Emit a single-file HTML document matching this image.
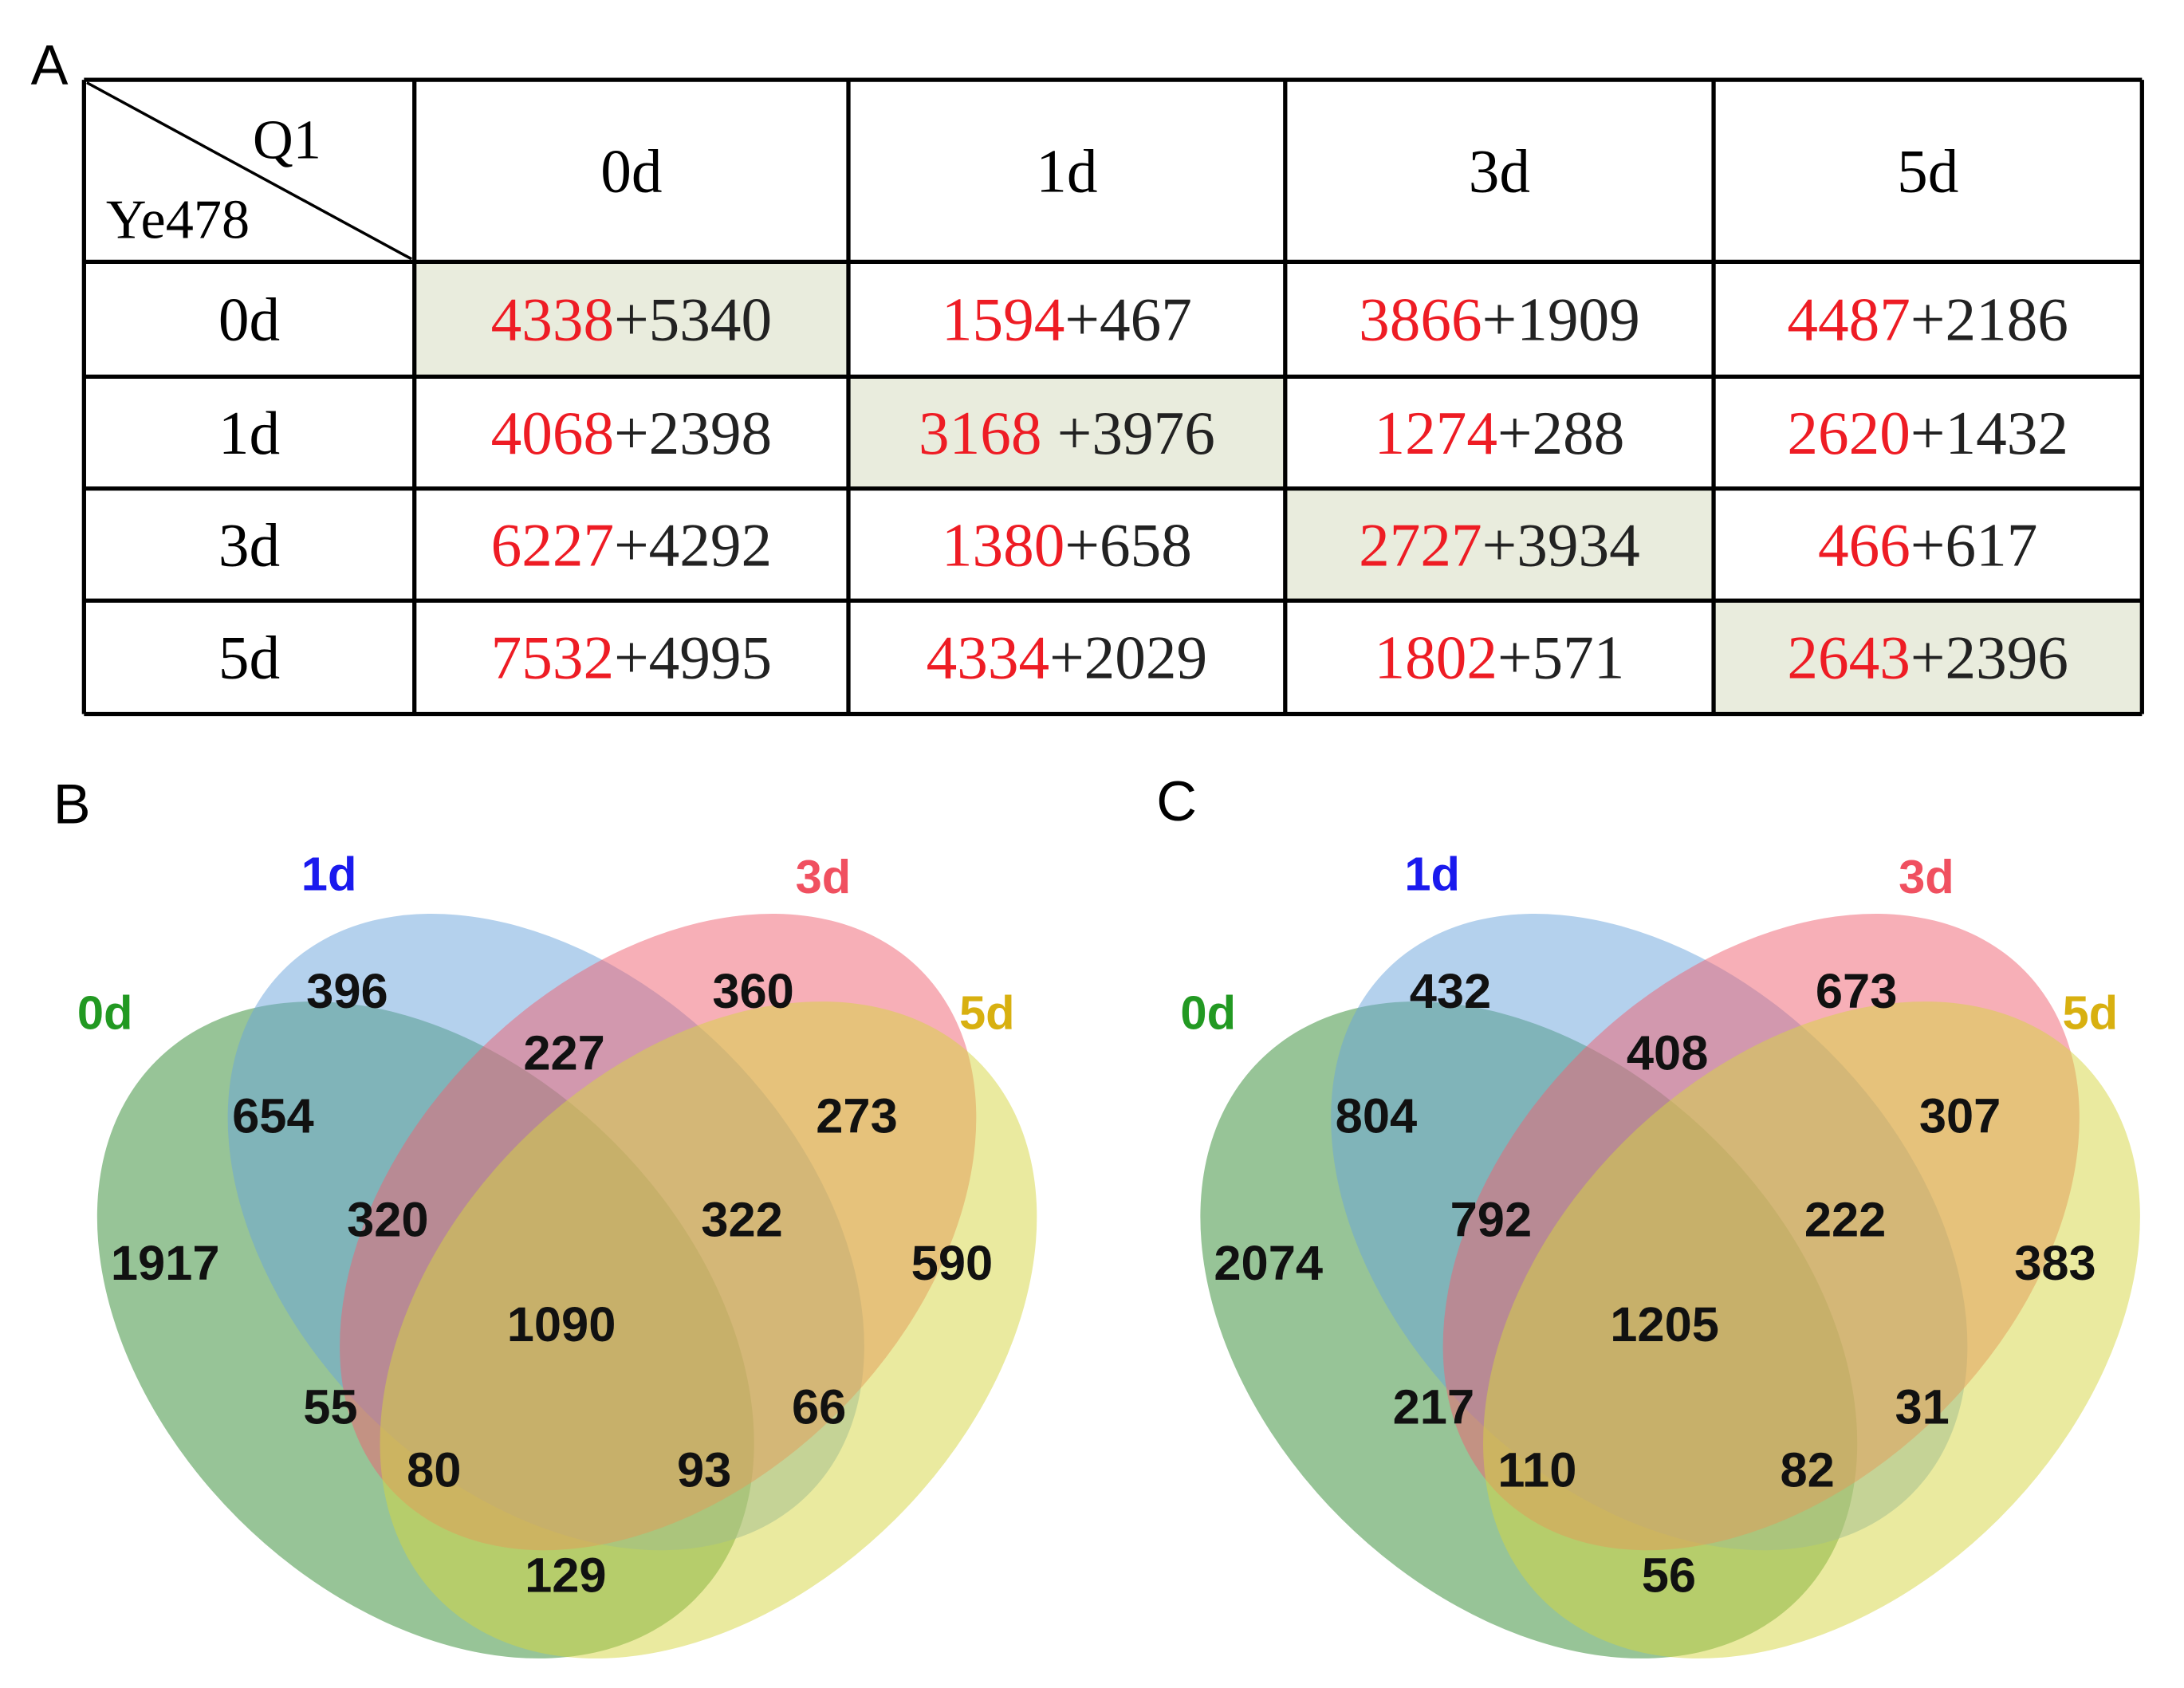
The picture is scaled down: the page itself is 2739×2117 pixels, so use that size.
<!DOCTYPE html>
<html><head><meta charset="utf-8"><style>
html,body{margin:0;padding:0;background:#fff;overflow:hidden}
svg{display:block}
.ser{font-family:"Liberation Serif",serif}
.san{font-family:"Liberation Sans",sans-serif}
</style></head><body>
<svg id="fig" width="2739" height="2117" viewBox="0 0 1560 1205.7" xmlns="http://www.w3.org/2000/svg">
<g id="tableA"></g>
<g id="vennB"></g>
<g id="vennC"></g>
</svg>
<script>
const colHeads=["0d","1d","3d","5d"];
const rowHeads=["0d","1d","3d","5d"];
const redVals=[[4338,1594,3866,4487],[4068,3168,1274,2620],[6227,1380,2727,466],[7532,4334,1802,2643]];
const blackVals=[[5340,467,1909,2186],[2398,3976,288,1432],[4292,658,3934,617],[4995,2029,571,2396]];
const setLabels=["0d","1d","3d","5d"];
const regionNames=["only0","only1","only3","only5","d01","d13","d35","d03","d0135","d013","d135","d035","d05","d015","d15"];
const countsB=[1917,396,360,590,654,227,273,55,1090,320,322,80,129,93,66];
const countsC=[2074,432,673,383,804,408,307,217,1205,792,222,110,56,82,31];

const NS="http://www.w3.org/2000/svg";
function mk(tag,attrs,parent){const e=document.createElementNS(NS,tag);for(const k in attrs)e.setAttribute(k,attrs[k]);parent.appendChild(e);return e;}

// ---- Table A
const T=document.getElementById('tableA');
const xs=[60,296,606,918,1224,1530], ys=[57,187,269,349,429,510];
let lab=mk('text',{x:22,y:60,'font-size':40,class:'san'},T);lab.textContent='A';


for(let i=0;i<4;i++){
  const r=mk('rect',{x:xs[i+1],y:ys[i+1],width:xs[i+2]-xs[i+1],height:ys[i+2]-ys[i+1],fill:'#e9ecdd'},T);
  
  
}
xs.forEach(x=>{const l=mk('line',{x1:x,y1:ys[0],x2:x,y2:ys[5],stroke:'#000','stroke-width':3},T);
  
  });
ys.forEach(y=>{const l=mk('line',{x1:xs[0],y1:y,x2:xs[5],y2:y,stroke:'#000','stroke-width':3},T);
  
  });
const dg=mk('line',{x1:62,y1:59,x2:294,y2:185,stroke:'#000','stroke-width':2},T);


let q=mk('text',{x:205,y:113,'font-size':40,'text-anchor':'middle',class:'ser'},T);q.textContent='Q1';


q=mk('text',{x:127,y:170,'font-size':40,'text-anchor':'middle',class:'ser'},T);q.textContent='Ye478';


const FS=44;
colHeads.forEach((h,i)=>{const t=mk('text',{x:(xs[i+1]+xs[i+2])/2,y:(ys[0]+ys[1])/2+15,'font-size':FS,'text-anchor':'middle',class:'ser'},T);t.textContent=h;
  
  });
rowHeads.forEach((h,j)=>{const t=mk('text',{x:(xs[0]+xs[1])/2,y:(ys[j+1]+ys[j+2])/2+15,'font-size':FS,'text-anchor':'middle',class:'ser'},T);t.textContent=h;
  
  });
for(let j=0;j<4;j++)for(let i=0;i<4;i++){
  const t=mk('text',{x:(xs[i+1]+xs[i+2])/2,y:(ys[j+1]+ys[j+2])/2+15,'font-size':FS,'text-anchor':'middle',class:'ser',fill:'#222'},T);
  
  
  const a=mk('tspan',{fill:'#ee1c24'},t);a.textContent=redVals[j][i]+(i===1&&j===1?' ':'');
  const b=mk('tspan',{},t);b.textContent='+'+blackVals[j][i];
}

// ---- Venn
const ell=[
 {cx:304,cy:950,rot:45,fill:'#2f8a2f'},
 {cx:390,cy:880,rot:45,fill:'#6aa3dc'},
 {cx:470,cy:880,rot:-45,fill:'#f06070'},
 {cx:506,cy:950,rot:-45,fill:'#d6d640'}];
const labPos=[[75,735],[235,636],[588,638],[705,735]];
const labCol=['#229922','#1a1aee','#f05060','#d8b010'];
const numPos=[[118,902],[248,708],[538,708],[680,902],[195,797],[403,752],[612,797],[236,1005],[401,946],[277,871],[530,871],[310,1050],[404,1125],[503,1050],[585,1005]];
function venn(g,dx,counts,letter,ly){
  let t=mk('text',{x:dx+38,y:ly,'font-size':40,class:'san'},g);t.textContent=letter;
  
  
  ell.forEach((e,k)=>{const rx=(k===0||k===3)?272:265, ry=(k===0||k===3)?190:182;
    const el=mk('ellipse',{cx:e.cx+dx,cy:e.cy,rx:rx,ry:ry,fill:e.fill,'fill-opacity':0.5,transform:`rotate(${e.rot} ${e.cx+dx} ${e.cy})`},g);
    
    });
  setLabels.forEach((s,k)=>{const tt=mk('text',{x:labPos[k][0]+dx,y:labPos[k][1],'font-size':34,'font-weight':'bold','text-anchor':'middle',fill:labCol[k],class:'san'},g);tt.textContent=s;
    
    });
  counts.forEach((c,k)=>{const tt=mk('text',{x:numPos[k][0]+dx,y:numPos[k][1]+12,'font-size':35,'font-weight':'bold','text-anchor':'middle',fill:'#111',class:'san'},g);tt.textContent=c;
    
    });
}
venn(document.getElementById('vennB'),0,countsB,'B',588);
venn(document.getElementById('vennC'),788,countsC,'C',586);
</script>
</body></html>
